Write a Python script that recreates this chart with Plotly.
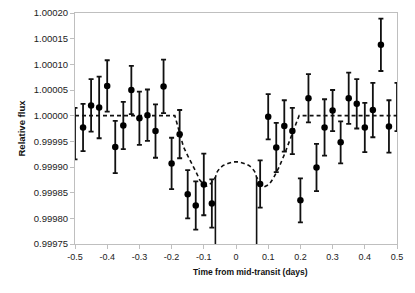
import plotly.graph_objects as go

# Observed binned data
time_days = [-0.5, -0.475, -0.45, -0.425, -0.4, -0.375, -0.35, -0.325, -0.3, -0.275,
             -0.25, -0.225, -0.2, -0.175, -0.15, -0.125, -0.1, -0.075,
             0.075, 0.1, 0.125, 0.15, 0.175, 0.2, 0.225, 0.25, 0.275, 0.3,
             0.325, 0.35, 0.375, 0.4, 0.425, 0.45, 0.475, 0.5]
rel_flux = [0.999965, 0.999977, 1.000020, 1.000016, 1.000058, 0.999939, 0.999981, 1.000050,
            0.999995, 1.000001, 0.999970, 1.000057, 0.999907, 0.999964, 0.999847, 0.999825,
            0.999866, 0.999829,
            0.999867, 0.999998, 0.999938, 0.999980, 0.999970, 0.999835, 1.000034, 0.999899,
            0.999977, 1.000010, 0.999948, 1.000034, 1.000023, 0.999977, 1.000011, 1.000138,
            0.999979, 1.000017]
flux_err = [5.0e-5, 4.6e-5, 5.1e-5, 6.0e-5, 5.0e-5, 5.1e-5, 4.6e-5, 4.7e-5, 5.2e-5, 5.0e-5,
            5.2e-5, 5.2e-5, 5.0e-5, 4.7e-5, 4.7e-5, 4.7e-5, 6.0e-5, 4.7e-5,
            4.6e-5, 4.4e-5, 4.8e-5, 5.0e-5, 4.5e-5, 4.3e-5, 4.7e-5, 4.6e-5, 5.5e-5, 4.0e-5,
            4.1e-5, 5.0e-5, 4.8e-5, 4.8e-5, 5.3e-5, 5.1e-5, 5.1e-5, 4.7e-5]

# Transit model (dashed)
model_t = [-0.5, -0.19, -0.182, -0.175, -0.163, -0.15, -0.137, -0.124, -0.112, -0.1, -0.091,
           -0.078, -0.064, -0.058, -0.05, -0.04, -0.025, -0.01, 0.0, 0.01, 0.025, 0.04,
           0.05, 0.058, 0.064, 0.078, 0.09, 0.103, 0.116, 0.134, 0.152, 0.165, 0.178,
           0.188, 0.196, 0.5]
model_f = [1.0, 1.0, 0.999982, 0.999966, 0.999939, 0.999922, 0.999907, 0.999890, 0.999874,
           0.999866, 0.999863, 0.999868, 0.999880, 0.999891, 0.999898, 0.999903, 0.999907,
           0.999910, 0.999910, 0.999910, 0.999907, 0.999903, 0.999898, 0.999891, 0.999880,
           0.999868, 0.999862, 0.999866, 0.999878, 0.999900, 0.999927, 0.999950, 0.999972,
           0.999987, 1.0, 1.0]

# Model drop-outs (solid vertical lines running off the bottom)
drop_t = [-0.064, 0.064]
drop_top = [0.99988, 0.99988]
drop_bottom = [0.9997, 0.9997]

x_ticks = [-0.5, -0.4, -0.3, -0.2, -0.1, 0, 0.1, 0.2, 0.3, 0.4, 0.5]
x_ticklabels = ["-0.5", "-0.4", "-0.3", "-0.2", "-0.1", "0", "0.1", "0.2", "0.3", "0.4", "0.5"]
y_ticks = [0.99975, 0.99980, 0.99985, 0.99990, 0.99995, 1.00000, 1.00005, 1.00010, 1.00015, 1.00020]
y_ticklabels = ["0.99975", "0.99980", "0.99985", "0.99990", "0.99995",
                "1.00000", "1.00005", "1.00010", "1.00015", "1.00020"]

drop_x, drop_y = [], []
for t, a, b in zip(drop_t, drop_top, drop_bottom):
    drop_x += [t, t, None]
    drop_y += [a, b, None]

# markers sitting exactly on the plot edge are hidden in the original (only bars show)
marker_sizes = [0 if abs(t) >= 0.5 else 6.5 for t in time_days]

fig = go.Figure()
fig.add_trace(go.Scatter(x=drop_x, y=drop_y, mode="lines",
                         line=dict(color="#111111", width=1.6), hoverinfo="skip"))
fig.add_trace(go.Scatter(x=model_t, y=model_f, mode="lines",
                         line=dict(color="#111111", width=1.6, dash="4px,3px")))
fig.add_trace(go.Scatter(x=time_days, y=rel_flux, mode="markers",
                         marker=dict(color="#000000", size=marker_sizes, opacity=1,
                                     line=dict(width=0, color="#000000")),
                         error_y=dict(type="data", array=flux_err, visible=True,
                                      color="#111111", thickness=1.8, width=2.5)))

font_fam = "Liberation Sans, Arial, sans-serif"
fig.update_layout(
    template="none",
    width=415, height=293,
    margin=dict(l=75, r=18, t=13, b=49, pad=0),
    paper_bgcolor="white", plot_bgcolor="white",
    showlegend=False,
    font=dict(family=font_fam, color="#222222", size=9),
    xaxis=dict(range=[-0.5, 0.5], tickvals=x_ticks, ticktext=x_ticklabels,
               automargin=False,
               showgrid=False, zeroline=False, showline=True, linecolor="#bfbfbf",
               linewidth=1, mirror=True, ticks="outside", ticklen=4, tickcolor="#bfbfbf",
               tickfont=dict(size=9, family=font_fam, color="#222222")),
    yaxis=dict(range=[0.99975, 1.00020], tickvals=y_ticks, ticktext=y_ticklabels,
               automargin=False,
               showgrid=False, zeroline=False, showline=True, linecolor="#bfbfbf",
               linewidth=1, mirror=True, ticks="outside", ticklen=4, tickcolor="#bfbfbf",
               tickfont=dict(size=9.5, family=font_fam, color="#222222")),
    annotations=[
        dict(text="<b>Time from mid-transit (days)</b>", xref="paper", yref="paper",
             x=0.545, y=0, yshift=-28, xanchor="center", yanchor="middle",
             showarrow=False, font=dict(size=8.5, family=font_fam, color="#111111")),
        dict(text="<b>Relative flux</b>", xref="paper", yref="paper",
             x=0, xshift=-54, y=0.5, xanchor="center", yanchor="middle", textangle=-90,
             showarrow=False, font=dict(size=9.5, family=font_fam, color="#111111")),
    ],
)

fig.write_html("out.html", config={"displayModeBar": False},
               post_script="document.body.style.margin='0';document.body.style.overflow='hidden';")
